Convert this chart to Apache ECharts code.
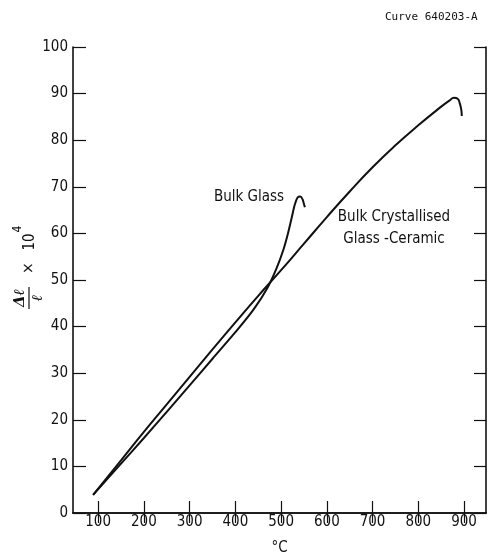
<!DOCTYPE html>
<html>
<head>
<meta charset="utf-8">
<script src="https://cdn.jsdelivr.net/npm/echarts@6/dist/echarts.min.js"></script>
<style>
html,body{margin:0;padding:0;background:#fff;}
#c{width:488px;height:553px;}
</style>
</head>
<body>
<div id="c"></div>
<script>
// Glass-ceramic curve (temperature °C, Δl/l ×10^4)
const ceramicT = [89, 150, 200, 250, 300, 350, 400, 450, 500, 550, 600, 650, 700, 750, 800, 850, 868, 878, 886, 891, 894, 895];
const ceramicV = [3.9, 11.3, 17.4, 23.3, 29.2, 35.1, 40.9, 46.6, 52.1, 57.8, 63.5, 69.0, 74.2, 78.9, 83.2, 87.2, 88.5, 89.1, 88.9, 87.8, 86.5, 85.2];
// Bulk glass curve
const glassT = [89, 150, 200, 250, 300, 350, 400, 440, 470, 490, 505, 515, 523, 530, 536, 542, 547, 550, 552];
const glassV = [3.9, 10.6, 16.1, 21.7, 27.4, 33.1, 38.8, 43.7, 48.3, 52.5, 56.5, 60.0, 63.3, 66.2, 67.7, 67.9, 67.3, 66.3, 65.6];
// Tick labels
const xTicks = [100, 200, 300, 400, 500, 600, 700, 800, 900];
const yTicks = [0, 10, 20, 30, 40, 50, 60, 70, 80, 90, 100];

const FONT = '"Liberation Sans Narrow", "DejaVu Sans Condensed", "Liberation Sans", sans-serif';
const ink = '#111';

const zip = (a, b) => a.map((v, i) => [v, b[i]]);

const chart = echarts.init(document.getElementById('c'), null, {renderer: 'canvas'});

const axisLine = {show: true, lineStyle: {color: ink, width: 1.6}};

chart.setOption({
  animation: false,
  backgroundColor: '#fff',
  grid: {left: 73, right: 2, top: 47, bottom: 40, containLabel: false, outerBoundsMode: 'none'},
  xAxis: [{
    type: 'value', min: 45, max: 948, position: 'bottom',
    axisLine: axisLine,
    axisTick: {show: true, inside: true, length: 12, customValues: xTicks, lineStyle: {color: ink, width: 1.2}},
    axisLabel: {show: true, customValues: xTicks, margin: 2, color: ink, fontFamily: FONT, fontSize: 15},
    splitLine: {show: false},
    name: '°C', nameLocation: 'middle', nameGap: 28,
    nameTextStyle: {color: ink, fontFamily: FONT, fontSize: 15}
  }, {
    type: 'value', min: 45, max: 948, position: 'top',
    axisLine: axisLine,
    axisTick: {show: true, inside: true, length: 10, customValues: xTicks, lineStyle: {color: ink, width: 1.2}},
    axisLabel: {show: false},
    splitLine: {show: false}
  }],
  yAxis: [{
    type: 'value', min: 0, max: 100, interval: 10, position: 'left',
    axisLine: axisLine,
    axisTick: {show: true, inside: true, length: 13, lineStyle: {color: ink, width: 1.2}},
    axisLabel: {show: true, margin: 5, color: ink, fontFamily: FONT, fontSize: 15},
    splitLine: {show: false}
  }, {
    type: 'value', min: 0, max: 100, interval: 10, position: 'right',
    axisLine: axisLine,
    axisTick: {show: true, inside: true, length: 12, lineStyle: {color: ink, width: 1.2}},
    axisLabel: {show: false},
    splitLine: {show: false}
  }],
  series: [{
    name: 'Bulk Crystallised Glass-Ceramic', type: 'line',
    data: zip(ceramicT, ceramicV), showSymbol: false, smooth: 0.5,
    lineStyle: {color: ink, width: 2}
  }, {
    name: 'Bulk Glass', type: 'line',
    data: zip(glassT, glassV), showSymbol: false, smooth: 0.3,
    lineStyle: {color: ink, width: 2}
  }],
  graphic: [
    {type: 'text', left: 385, top: 12, style: {text: 'Curve 640203-A', fill: ink, font: '11px "DejaVu Sans Mono", monospace'}},
    {type: 'text', x: 249, y: 197, style: {text: 'Bulk Glass', fill: ink, font: '15px ' + FONT, align: 'center', verticalAlign: 'middle'}},
    {type: 'text', x: 394, y: 217, style: {text: 'Bulk Crystallised', fill: ink, font: '15px ' + FONT, align: 'center', verticalAlign: 'middle'}},
    {type: 'text', x: 394, y: 239, style: {text: 'Glass -Ceramic', fill: ink, font: '15px ' + FONT, align: 'center', verticalAlign: 'middle'}},
    {type: 'group', x: 28, y: 298, rotation: Math.PI / 2, children: [
      {type: 'text', x: 0, y: -8, style: {text: 'Δℓ', fill: ink, font: 'italic bold 15px "DejaVu Serif", serif', align: 'center', verticalAlign: 'middle'}},
      {type: 'line', shape: {x1: -11, y1: 1, x2: 11, y2: 1}, style: {stroke: ink, lineWidth: 1.2}},
      {type: 'text', x: 0, y: 10, style: {text: 'ℓ', fill: ink, font: 'italic bold 15px "DejaVu Serif", serif', align: 'center', verticalAlign: 'middle'}},
      {type: 'text', x: 30, y: 1, style: {text: '×', fill: ink, font: '15px ' + FONT, align: 'center', verticalAlign: 'middle'}},
      {type: 'text', x: 56, y: 2, style: {text: '10', fill: ink, font: '15px ' + FONT, align: 'center', verticalAlign: 'middle'}},
      {type: 'text', x: 69, y: -10, style: {text: '4', fill: ink, font: '12px ' + FONT, align: 'center', verticalAlign: 'middle'}}
    ]}
  ]
});
</script>
</body>
</html>
